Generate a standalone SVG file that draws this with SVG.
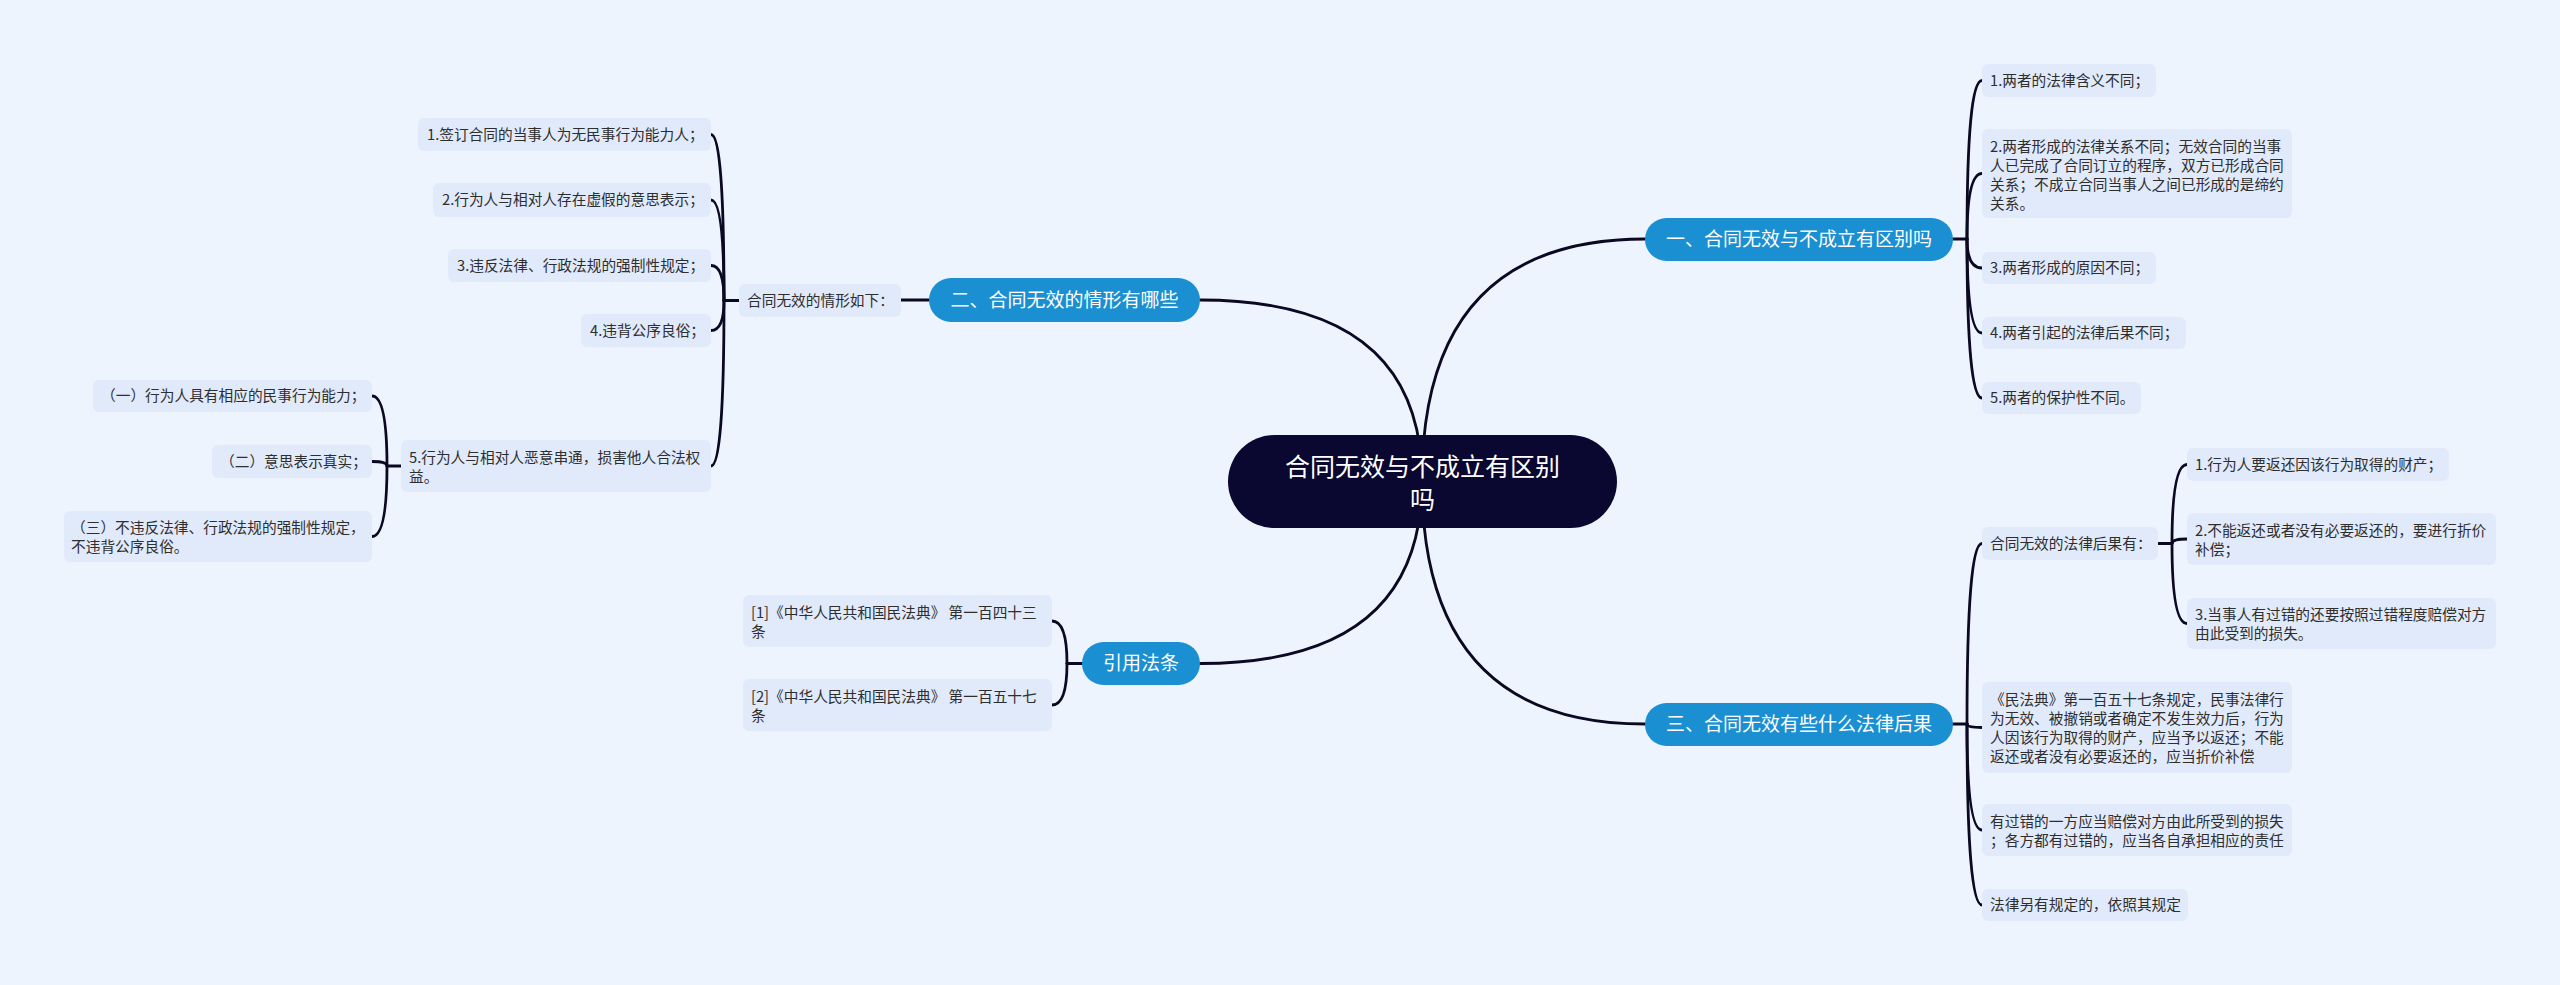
<svg xmlns="http://www.w3.org/2000/svg" width="2560" height="985" viewBox="0 0 2560 985">
<style>
.bg{fill:#eef4fe}
.ln{fill:none;stroke:#0a0822;stroke-width:2.8;stroke-linecap:round}
.leaf{fill:#e1eafb}
.lt{font-family:"Noto Sans CJK SC","Noto Sans",sans-serif;font-size:14.7px;fill:#2e2e2e}
.br{fill:#1a8fd2}
.bt{font-family:"Noto Sans CJK SC","Noto Sans",sans-serif;font-size:19px;fill:#fff;text-anchor:middle}
.root{fill:#0a0730}
.rt{font-family:"Noto Sans CJK SC","Noto Sans",sans-serif;font-size:25px;fill:#fff;text-anchor:middle}
</style>
<rect class="bg" x="0" y="0" width="2560" height="985"/>
<g id="connectors">
<path class="ln" d="M1422,481 Q1422,239 1645,239"/>
<path class="ln" d="M1422,481 Q1422,724 1645,724"/>
<path class="ln" d="M1422,481 Q1422,300 1200,300"/>
<path class="ln" d="M1422,481 Q1422,663.5 1200,663.5"/>
<path class="ln" d="M1953,239 H1967"/>
<path class="ln" d="M1967,239 Q1967,80.5 1982,80.5"/>
<path class="ln" d="M1967,239 Q1967,173.5 1982,173.5"/>
<path class="ln" d="M1967,239 Q1967,268 1982,268"/>
<path class="ln" d="M1967,239 Q1967,333 1982,333"/>
<path class="ln" d="M1967,239 Q1967,398 1982,398"/>
<path class="ln" d="M1953,724 H1967"/>
<path class="ln" d="M1967,724 Q1967,543.5 1982,543.5"/>
<path class="ln" d="M1967,724 Q1967,727.5 1982,727.5"/>
<path class="ln" d="M1967,724 Q1967,830 1982,830"/>
<path class="ln" d="M1967,724 Q1967,905 1982,905"/>
<path class="ln" d="M2158,543.5 H2172"/>
<path class="ln" d="M2172,543.5 Q2172,464.5 2187,464.5"/>
<path class="ln" d="M2172,543.5 Q2172,539 2187,539"/>
<path class="ln" d="M2172,543.5 Q2172,623.5 2187,623.5"/>
<path class="ln" d="M929,300 H901"/>
<path class="ln" d="M739,300.5 H724"/>
<path class="ln" d="M724,300.5 Q724,134.5 711,134.5"/>
<path class="ln" d="M724,300.5 Q724,200 711,200"/>
<path class="ln" d="M724,300.5 Q724,265.5 711,265.5"/>
<path class="ln" d="M724,300.5 Q724,330.5 711,330.5"/>
<path class="ln" d="M724,300.5 Q724,466 711,466"/>
<path class="ln" d="M401,466 H387"/>
<path class="ln" d="M387,466 Q387,396 372,396"/>
<path class="ln" d="M387,466 Q387,461.5 372,461.5"/>
<path class="ln" d="M387,466 Q387,536.5 372,536.5"/>
<path class="ln" d="M1082,663.5 H1067"/>
<path class="ln" d="M1067,663.5 Q1067,621 1052,621"/>
<path class="ln" d="M1067,663.5 Q1067,705 1052,705"/>
</g>
<g id="root">
<rect class="root" x="1228" y="435" width="389" height="93" rx="46.5"/>
<text class="rt" x="1422.5" y="476">合同无效与不成立有区别</text>
<text class="rt" x="1422.5" y="509">吗</text>
</g>
<g id="b1">
<rect class="br" x="1645" y="218" width="308" height="43" rx="21.5"/>
<text class="bt" x="1799" y="246">一、合同无效与不成立有区别吗</text>
</g>
<g id="b1-1"><rect class="leaf" x="1982" y="64" width="174" height="33" rx="6"/><text class="lt" x="1990" y="85.5">1.两者的法律含义不同；</text></g>
<g id="b1-2"><rect class="leaf" x="1982" y="129" width="310" height="89" rx="6"/>
<text class="lt" x="1990" y="152">2.两者形成的法律关系不同；无效合同的当事</text>
<text class="lt" x="1990" y="171">人已完成了合同订立的程序，双方已形成合同</text>
<text class="lt" x="1990" y="190">关系；不成立合同当事人之间已形成的是缔约</text>
<text class="lt" x="1990" y="209">关系。</text></g>
<g id="b1-3"><rect class="leaf" x="1982" y="252" width="174" height="32" rx="6"/><text class="lt" x="1990" y="273">3.两者形成的原因不同；</text></g>
<g id="b1-4"><rect class="leaf" x="1982" y="317" width="204" height="32" rx="6"/><text class="lt" x="1990" y="338">4.两者引起的法律后果不同；</text></g>
<g id="b1-5"><rect class="leaf" x="1982" y="382" width="159" height="32" rx="6"/><text class="lt" x="1990" y="403">5.两者的保护性不同。</text></g>
<g id="b3">
<rect class="br" x="1645" y="703" width="308" height="43" rx="21.5"/>
<text class="bt" x="1799" y="731">三、合同无效有些什么法律后果</text>
</g>
<g id="b3-1"><rect class="leaf" x="1982" y="527" width="176" height="33" rx="6"/><text class="lt" x="1990" y="548.5">合同无效的法律后果有：</text></g>
<g id="b3-1-1"><rect class="leaf" x="2187" y="448" width="262" height="33" rx="6"/><text class="lt" x="2195" y="469.5">1.行为人要返还因该行为取得的财产；</text></g>
<g id="b3-1-2"><rect class="leaf" x="2187" y="513" width="309" height="52" rx="6"/>
<text class="lt" x="2195" y="535.5">2.不能返还或者没有必要返还的，要进行折价</text>
<text class="lt" x="2195" y="554.5">补偿；</text></g>
<g id="b3-1-3"><rect class="leaf" x="2187" y="598" width="309" height="51" rx="6"/>
<text class="lt" x="2195" y="619.5">3.当事人有过错的还要按照过错程度赔偿对方</text>
<text class="lt" x="2195" y="638.5">由此受到的损失。</text></g>
<g id="b3-2"><rect class="leaf" x="1982" y="682" width="310" height="91" rx="6"/>
<text class="lt" x="1990" y="705">《民法典》第一百五十七条规定，民事法律行</text>
<text class="lt" x="1990" y="724">为无效、被撤销或者确定不发生效力后，行为</text>
<text class="lt" x="1990" y="743">人因该行为取得的财产，应当予以返还；不能</text>
<text class="lt" x="1990" y="762">返还或者没有必要返还的，应当折价补偿</text></g>
<g id="b3-3"><rect class="leaf" x="1982" y="804" width="310" height="52" rx="6"/>
<text class="lt" x="1990" y="826.5">有过错的一方应当赔偿对方由此所受到的损失</text>
<text class="lt" x="1990" y="845.5">；各方都有过错的，应当各自承担相应的责任</text></g>
<g id="b3-4"><rect class="leaf" x="1982" y="889" width="206" height="32" rx="6"/><text class="lt" x="1990" y="910">法律另有规定的，依照其规定</text></g>
<g id="b2">
<rect class="br" x="929" y="278" width="271" height="44" rx="22"/>
<text class="bt" x="1064.5" y="306.5">二、合同无效的情形有哪些</text>
</g>
<g id="b2-1"><rect class="leaf" x="739" y="284" width="162" height="33" rx="6"/><text class="lt" x="747" y="305.5">合同无效的情形如下：</text></g>
<g id="b2-1-1"><rect class="leaf" x="418" y="118" width="293" height="33" rx="6"/><text class="lt" x="427" y="139.5">1.签订合同的当事人为无民事行为能力人；</text></g>
<g id="b2-1-2"><rect class="leaf" x="433" y="183" width="278" height="34" rx="6"/><text class="lt" x="442" y="205">2.行为人与相对人存在虚假的意思表示；</text></g>
<g id="b2-1-3"><rect class="leaf" x="448" y="249" width="263" height="33" rx="6"/><text class="lt" x="457" y="270.5">3.违反法律、行政法规的强制性规定；</text></g>
<g id="b2-1-4"><rect class="leaf" x="581" y="314" width="130" height="33" rx="6"/><text class="lt" x="590" y="335.5">4.违背公序良俗；</text></g>
<g id="b2-1-5"><rect class="leaf" x="401" y="440" width="310" height="52" rx="6"/>
<text class="lt" x="409" y="462.5">5.行为人与相对人恶意串通，损害他人合法权</text>
<text class="lt" x="409" y="481.5">益。</text></g>
<g id="b2-1-5-1"><rect class="leaf" x="93" y="380" width="279" height="32" rx="6"/><text class="lt" x="101" y="401">（一）行为人具有相应的民事行为能力；</text></g>
<g id="b2-1-5-2"><rect class="leaf" x="212" y="445" width="160" height="33" rx="6"/><text class="lt" x="220" y="466.5">（二）意思表示真实；</text></g>
<g id="b2-1-5-3"><rect class="leaf" x="64" y="511" width="308" height="51" rx="6"/>
<text class="lt" x="71" y="532.5">（三）不违反法律、行政法规的强制性规定，</text>
<text class="lt" x="71" y="551.5">不违背公序良俗。</text></g>
<g id="b4">
<rect class="br" x="1082" y="642" width="118" height="43" rx="21.5"/>
<text class="bt" x="1141" y="670">引用法条</text>
</g>
<g id="b4-1"><rect class="leaf" x="743" y="595" width="309" height="52" rx="6"/>
<text class="lt" x="751" y="617.5">[1]《中华人民共和国民法典》 第一百四十三</text>
<text class="lt" x="751" y="636.5">条</text></g>
<g id="b4-2"><rect class="leaf" x="743" y="679" width="309" height="52" rx="6"/>
<text class="lt" x="751" y="701.5">[2]《中华人民共和国民法典》 第一百五十七</text>
<text class="lt" x="751" y="720.5">条</text></g>
</svg>
